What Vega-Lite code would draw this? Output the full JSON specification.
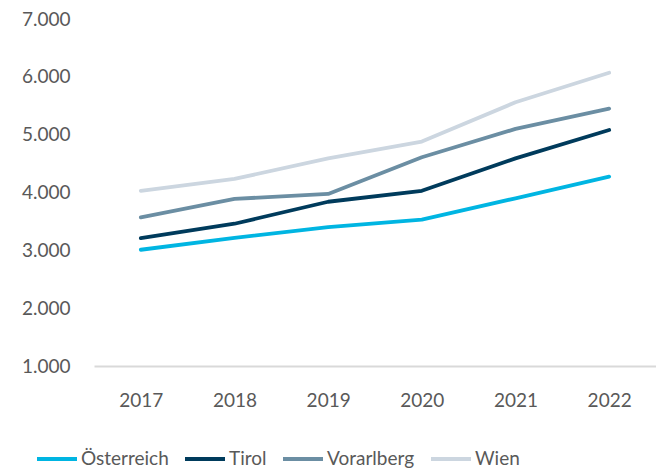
{
  "$schema": "https://vega.github.io/schema/vega-lite/v6.json",
  "width": 562,
  "height": 347,
  "autosize": {"type": "none"},
  "padding": {"left": 94, "top": 19, "right": 0, "bottom": 109},
  "background": "white",
  "data": {
    "values": [
      {"year": "2017", "region": "Österreich", "value": 3010},
      {"year": "2018", "region": "Österreich", "value": 3215},
      {"year": "2019", "region": "Österreich", "value": 3400},
      {"year": "2020", "region": "Österreich", "value": 3530},
      {"year": "2021", "region": "Österreich", "value": 3900},
      {"year": "2022", "region": "Österreich", "value": 4275},
      {"year": "2017", "region": "Tirol", "value": 3210},
      {"year": "2018", "region": "Tirol", "value": 3460},
      {"year": "2019", "region": "Tirol", "value": 3840},
      {"year": "2020", "region": "Tirol", "value": 4030},
      {"year": "2021", "region": "Tirol", "value": 4590},
      {"year": "2022", "region": "Tirol", "value": 5080},
      {"year": "2017", "region": "Vorarlberg", "value": 3570},
      {"year": "2018", "region": "Vorarlberg", "value": 3890},
      {"year": "2019", "region": "Vorarlberg", "value": 3975},
      {"year": "2020", "region": "Vorarlberg", "value": 4610},
      {"year": "2021", "region": "Vorarlberg", "value": 5100},
      {"year": "2022", "region": "Vorarlberg", "value": 5450},
      {"year": "2017", "region": "Wien", "value": 4030},
      {"year": "2018", "region": "Wien", "value": 4235},
      {"year": "2019", "region": "Wien", "value": 4590},
      {"year": "2020", "region": "Wien", "value": 4880},
      {"year": "2021", "region": "Wien", "value": 5560},
      {"year": "2022", "region": "Wien", "value": 6070}
    ]
  },
  "mark": {"type": "line", "strokeWidth": 3.8, "strokeCap": "round", "strokeJoin": "round"},
  "encoding": {
    "x": {
      "field": "year",
      "type": "ordinal",
      "scale": {"type": "point", "padding": 0.5},
      "axis": {
        "title": null,
        "labelAngle": 0,
        "ticks": false,
        "grid": false,
        "domain": true,
        "domainColor": "#d9d9d9",
        "domainWidth": 2,
        "labelPadding": 25,
        "labelFont": "Lato",
        "labelFontSize": 19,
        "labelColor": "#595959"
      }
    },
    "y": {
      "field": "value",
      "type": "quantitative",
      "scale": {"domain": [1000, 7000], "nice": false, "zero": false},
      "axis": {
        "title": null,
        "values": [1000, 2000, 3000, 4000, 5000, 6000, 7000],
        "labelExpr": "replace(format(datum.value, ','), ',', '.')",
        "ticks": false,
        "grid": false,
        "domain": false,
        "labelPadding": 24,
        "labelFont": "Lato",
        "labelFontSize": 19,
        "labelColor": "#595959"
      }
    },
    "color": {
      "field": "region",
      "type": "nominal",
      "scale": {
        "domain": ["Österreich", "Tirol", "Vorarlberg", "Wien"],
        "range": ["#00b5e2", "#003b5c", "#6b8ea3", "#ccd6e0"]
      },
      "legend": {
        "title": null,
        "orient": "none",
        "direction": "horizontal",
        "legendX": -59,
        "legendY": 418,
        "padding": 0,
        "symbolType": "stroke",
        "symbolSize": 1600,
        "symbolStrokeWidth": 3.8,
        "labelOffset": 2,
        "columnPadding": 8,
        "labelFont": "Lato",
        "labelFontSize": 19,
        "labelColor": "#595959"
      }
    }
  },
  "config": {"view": {"stroke": null}}
}
